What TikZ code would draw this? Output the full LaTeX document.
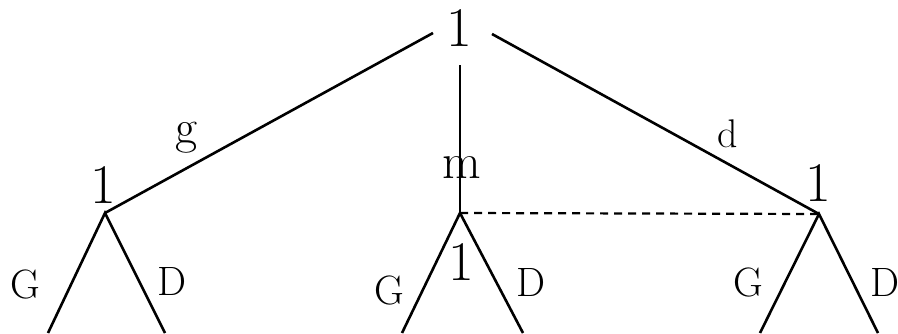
\documentclass[tikz,border=0pt]{standalone}
\begin{document}
\begin{tikzpicture}[x=1pt,y=1pt,
  edge/.style={line width=2.6pt},
  info/.style={line width=2.2pt, dash pattern=on 8pt off 6pt},
  num/.style={inner sep=0pt, font=\fontsize{56}{60}\selectfont},
  lab/.style={inner sep=0pt, font=\fontsize{41}{45}\selectfont},
  small/.style={inner sep=0pt, font=\fontsize{#1}{#1}\selectfont}]
\useasboundingbox (0,0) rectangle (898,333);
% labels
\node[num] (root) at (459,305) {1};
\node[num] (lone) at (103,148) {1};
\node[num] (mone) at (461,71) {1};
\node[num] (rone) at (818,150) {1};
\node[small=48] (g) at (187,195.5) {g};
\node[small=50] (m) at (462,165.5) {m};
\node[small=40] (d) at (728,199) {d};
\node[lab] (lG) at (25,49) {G};
\node[lab] (lD) at (172,51.5) {D};
\node[lab] (mG) at (389,43) {G};
\node[lab] (mD) at (531,50.5) {D};
\node[lab] (rG) at (748,51) {G};
\node[lab] (rD) at (885,51) {D};
% tree points
\coordinate (rootL) at (433,300);
\coordinate (rootR) at (492,299);
\coordinate (rootM) at (460,268);
\coordinate (L) at (105,120);
\coordinate (M) at (460,120);
\coordinate (R) at (819,119);
\coordinate (L1) at (48,0);
\coordinate (L2) at (165,0);
\coordinate (M1) at (402,0);
\coordinate (M2) at (523,0);
\coordinate (R1) at (760,0);
\coordinate (R2) at (878,0);
% edges
\draw[edge] (rootL) -- (L);
\draw[edge] (rootM) -- (M);
\draw[edge] (rootR) -- (R);
\draw[edge] (L1) -- (L) -- (L2);
\draw[edge] (M1) -- (M) -- (M2);
\draw[edge] (R1) -- (R) -- (R2);
\draw[info] (M) -- (R);
\end{tikzpicture}
\end{document}
